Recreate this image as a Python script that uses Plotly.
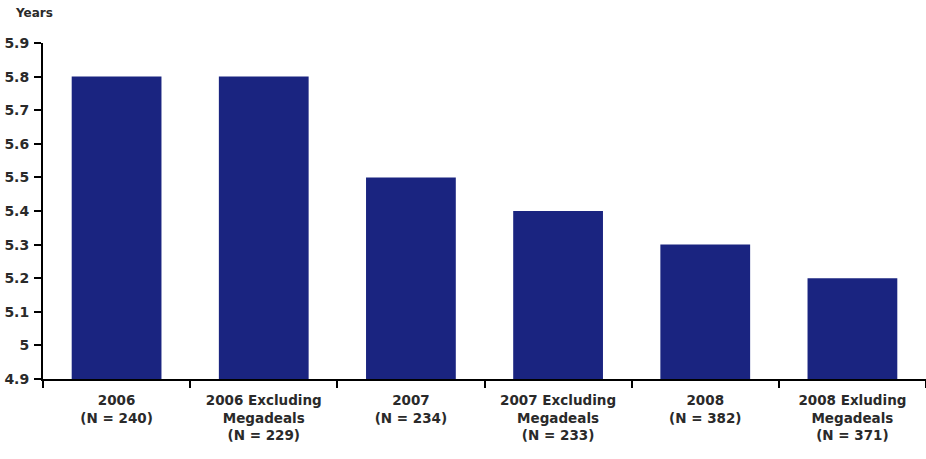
import plotly.graph_objects as go

categories = [
    "2006<br>(N = 240)",
    "2006 Excluding<br>Megadeals<br>(N = 229)",
    "2007<br>(N = 234)",
    "2007 Excluding<br>Megadeals<br>(N = 233)",
    "2008<br>(N = 382)",
    "2008 Exluding<br>Megadeals<br>(N = 371)",
]
values = [5.8, 5.8, 5.5, 5.4, 5.3, 5.2]
y_ticks = [4.9, 5.0, 5.1, 5.2, 5.3, 5.4, 5.5, 5.6, 5.7, 5.8, 5.9]
y_tick_text = ["4.9", "5", "5.1", "5.2", "5.3", "5.4", "5.5", "5.6", "5.7", "5.8", "5.9"]
base_value = 4.9

font_family = "DejaVu Sans, Verdana, sans-serif"

fig = go.Figure(
    go.Bar(
        x=categories,
        y=[v - base_value for v in values],
        base=base_value,
        marker=dict(color="#1A2480", line=dict(width=0)),
        width=0.61,
    )
)

fig.update_layout(
    width=926,
    height=459,
    margin=dict(l=43, r=0, t=43, b=80),
    paper_bgcolor="white",
    plot_bgcolor="white",
    showlegend=False,
    font=dict(family=font_family, color="#222222"),
)
fig.update_xaxes(
    type="category",
    showline=True,
    linecolor="black",
    linewidth=2,
    ticks="outside",
    tickson="boundaries",
    ticklen=7,
    tickwidth=2,
    tickcolor="black",
    showgrid=False,
    ticklabelstandoff=8,
    tickfont=dict(size=13.5, family=font_family, color="#2a2a2a", weight="bold"),
)
fig.update_yaxes(
    range=[4.9, 5.9],
    tickvals=y_ticks,
    ticktext=y_tick_text,
    showline=True,
    linecolor="black",
    linewidth=2,
    ticks="outside",
    ticklen=7,
    tickwidth=2,
    tickcolor="black",
    showgrid=False,
    zeroline=False,
    ticklabelstandoff=2,
    tickfont=dict(size=14, family=font_family, color="#2a2a2a", weight="bold"),
)
fig.add_annotation(
    text="Years",
    xref="paper",
    yref="paper",
    x=-30 / 883,
    y=1 + 30 / 336,
    xanchor="left",
    yanchor="middle",
    showarrow=False,
    font=dict(size=12, family=font_family, color="#2a2a2a", weight="bold"),
)

fig.write_html("out.html")
